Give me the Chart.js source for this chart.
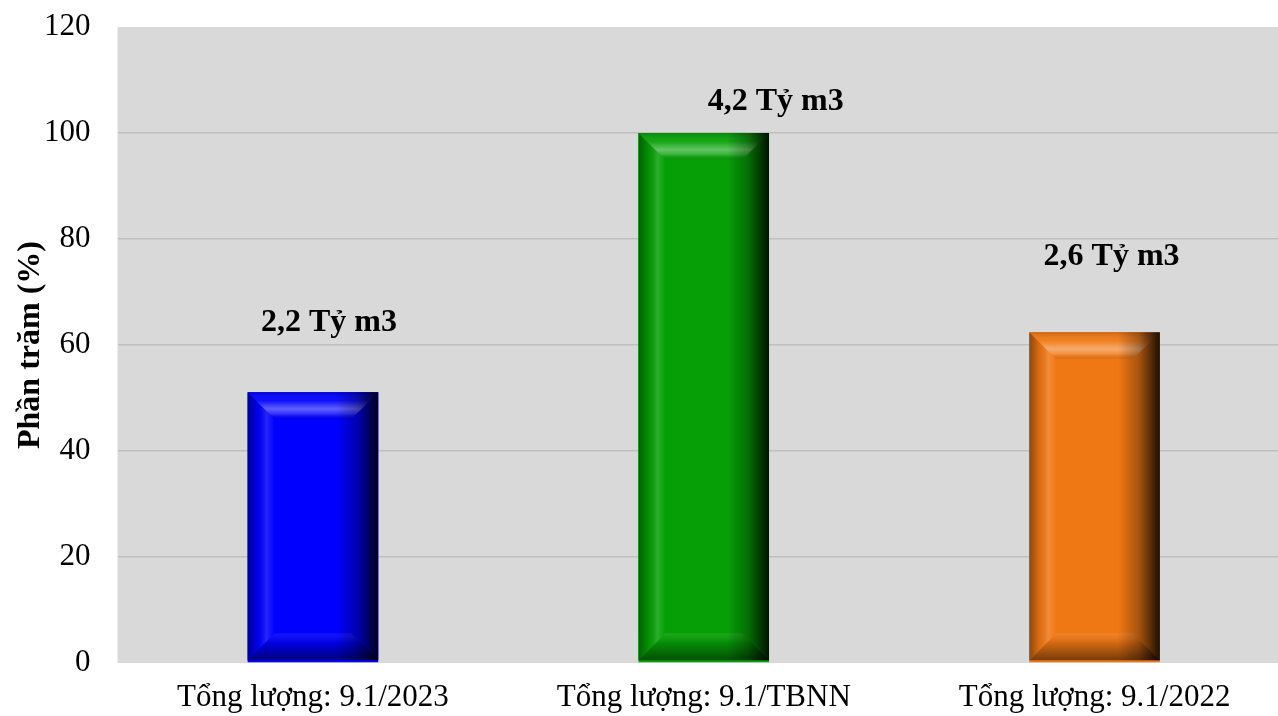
<!DOCTYPE html>
<html>
<head>
<meta charset="utf-8">
<script src="https://cdn.jsdelivr.net/npm/chart.js@4"></script>
<style>
  html, body { margin: 0; padding: 0; background: #fff; overflow: hidden; }
  canvas { display: block; }
</style>
</head>
<body>
<canvas id="waterChart" width="1290" height="716"></canvas>
<script>
// Chart data
const categories = ['Tổng lượng: 9.1/2023', 'Tổng lượng: 9.1/TBNN', 'Tổng lượng: 9.1/2022'];
const percentValues = [51.1, 100, 62.4];
const volumeLabels = ['2,2 Tỷ m3', '4,2 Tỷ m3', '2,6 Tỷ m3'];
const barColors = ['#0000ff', '#06a006', '#f07814'];
const yTicks = [0, 20, 40, 60, 80, 100, 120];

// where the volume labels sit (baseline, in % units) and shift right (px)
const labelLevel = [62.7, 104.3, 75.1];
const labelShift = [16, 72, 17];

// gray plot background
const plotBackground = {
    id: 'plotBackground',
    beforeDraw(chart) {
        const a = chart.chartArea;
        const c = chart.ctx;
        c.save();
        c.fillStyle = '#d9d9d9';
        c.fillRect(a.left, a.top, a.right - a.left, a.bottom - a.top);
        c.restore();
    }
};

// bevelled look on top of the plain bars
const bevelBars = {
    id: 'bevelBars',
    afterDatasetsDraw(chart) {
        const c = chart.ctx;
        const meta = chart.getDatasetMeta(0);
        meta.data.forEach((bar, i) => {
            const p = bar.getProps(['x', 'y', 'base', 'width'], true);
            const L = p.x - p.width / 2, R = p.x + p.width / 2;
            const T = p.y, B = p.base - 2;
            const d = 27;
            c.save();
            c.fillStyle = barColors[i];
            c.fillRect(L, T, R - L, B - T);

            // left edge
            let g = c.createLinearGradient(L, 0, L + d, 0);
            g.addColorStop(0, 'rgba(0,0,0,0.4)');
            g.addColorStop(0.4, 'rgba(0,0,0,0.08)');
            g.addColorStop(0.7, 'rgba(255,255,255,0.15)');
            g.addColorStop(1, 'rgba(255,255,255,0)');
            c.fillStyle = g;
            c.beginPath();
            c.moveTo(L, T); c.lineTo(L + d, T + d); c.lineTo(L + d, B - d); c.lineTo(L, B);
            c.closePath(); c.fill();

            // top bevel
            g = c.createLinearGradient(0, T, 0, T + d);
            g.addColorStop(0, 'rgba(0,0,0,0.15)');
            g.addColorStop(0.3, 'rgba(255,255,255,0.05)');
            g.addColorStop(0.62, 'rgba(255,255,255,0.38)');
            g.addColorStop(0.8, 'rgba(255,255,255,0.2)');
            g.addColorStop(1, 'rgba(0,0,0,0.04)');
            c.fillStyle = g;
            c.beginPath();
            c.moveTo(L, T); c.lineTo(R, T); c.lineTo(R - d, T + d); c.lineTo(L + d, T + d);
            c.closePath(); c.fill();

            // bottom bevel
            g = c.createLinearGradient(0, B - d, 0, B);
            g.addColorStop(0, 'rgba(255,255,255,0.08)');
            g.addColorStop(0.35, 'rgba(0,0,0,0.12)');
            g.addColorStop(1, 'rgba(0,0,0,0.5)');
            c.fillStyle = g;
            c.beginPath();
            c.moveTo(L, B); c.lineTo(R, B); c.lineTo(R - d, B - d); c.lineTo(L + d, B - d);
            c.closePath(); c.fill();

            // right edge, dark
            g = c.createLinearGradient(R - 42, 0, R, 0);
            g.addColorStop(0, 'rgba(0,0,0,0)');
            g.addColorStop(0.5, 'rgba(0,0,0,0.3)');
            g.addColorStop(1, 'rgba(0,0,0,0.88)');
            c.fillStyle = g;
            c.fillRect(R - 42, T, 42, B - T);

            c.restore();
        });
    }
};

// "x,x Tỷ m3" labels above bars
const volumeText = {
    id: 'volumeText',
    afterDatasetsDraw(chart) {
        const c = chart.ctx;
        const yScale = chart.scales.y;
        const meta = chart.getDatasetMeta(0);
        c.save();
        c.font = 'bold 32px "Liberation Serif", "Times New Roman", serif';
        c.fillStyle = '#000';
        c.textAlign = 'center';
        c.textBaseline = 'alphabetic';
        meta.data.forEach((bar, i) => {
            c.fillText(volumeLabels[i], bar.x + labelShift[i], yScale.getPixelForValue(labelLevel[i]));
        });
        c.restore();
    }
};

const serif = '"Liberation Serif", "Times New Roman", serif';

var ctx = document.getElementById('waterChart').getContext('2d');
var waterChart = new Chart(ctx, {
    type: 'bar',
    data: {
        labels: categories,
        datasets: [{
            data: percentValues,
            backgroundColor: barColors,
            borderWidth: 0,
            categoryPercentage: 1,
            barPercentage: 0.334
        }]
    },
    options: {
        responsive: false,
        animation: false,
        layout: { padding: { top: 27, left: 0, right: 0, bottom: 0 } },
        plugins: {
            legend: { display: false },
            tooltip: { enabled: false }
        },
        scales: {
            x: {
                grid: { display: false, drawTicks: false },
                border: { display: false },
                ticks: {
                    color: '#000',
                    padding: 16,
                    maxRotation: 0,
                    font: { family: serif, size: 31 }
                },
                afterFit(scale) {
                    scale.height = 53;
                    scale.paddingLeft = 0;
                    scale.paddingRight = 0;
                }
            },
            y: {
                min: 0,
                max: 120,
                afterBuildTicks(scale) { scale.ticks = yTicks.map(v => ({ value: v })); },
                grid: {
                    drawTicks: false,
                    lineWidth: 1.5,
                    color: c => (c.tick && (c.tick.value === 0 || c.tick.value === 120)) ? 'rgba(0,0,0,0)' : '#bfbfbf'
                },
                border: { display: false },
                ticks: {
                    color: '#000',
                    padding: 27,
                    font: { family: serif, size: 31 }
                },
                title: {
                    display: true,
                    text: 'Phần trăm (%)',
                    color: '#000',
                    padding: { top: 12, bottom: 0 },
                    font: { family: serif, size: 32, weight: 'bold' }
                },
                afterFit(scale) {
                    scale.width = 117.5;
                    scale.paddingTop = 0;
                    scale.paddingBottom = 0;
                }
            }
        }
    },
    plugins: [plotBackground, bevelBars, volumeText]
});
</script>
</body>
</html>
